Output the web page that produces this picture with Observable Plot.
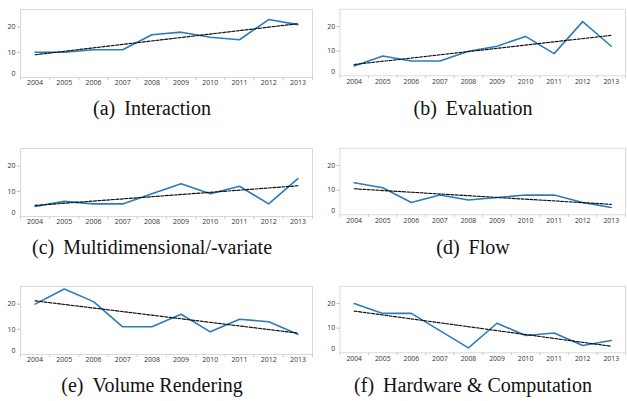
<!DOCTYPE html>
<html><head><meta charset="utf-8">
<script src="https://cdn.jsdelivr.net/npm/d3@7"></script>
<script src="https://cdn.jsdelivr.net/npm/@observablehq/plot@0.6"></script>
<style>
html,body{margin:0;padding:0;background:#fff;}
#root{position:relative;width:627px;height:401px;overflow:hidden;background:#fff;}
.panel{position:absolute;}
.cap{position:absolute;font-family:'Liberation Serif','Times New Roman',serif;font-size:20px;line-height:20px;color:#111;white-space:nowrap;transform:translateX(-50%);}
.cap .lbl{margin-right:9px;}
</style></head><body><div id="root"></div>
<script>
const years = [2004, 2005, 2006, 2007, 2008, 2009, 2010, 2011, 2012, 2013];
const interaction      = [10, 10, 11, 11, 17, 18, 16, 15, 23, 21];
const evaluation       = [4, 8, 6, 6, 10, 12, 16, 9, 22, 12];
const multidimensional = [4, 6, 5, 5, 9, 13, 9, 12, 5, 15];
const flow             = [13, 11, 5, 8, 6, 7, 8, 8, 5, 3];
const volumeRendering  = [20, 26, 21, 11, 11, 16, 9, 14, 13, 8];
const hardware         = [20, 16, 16, 9, 2, 12, 7, 8, 3, 5];
const captionLabels = ["(a)", "(b)", "(c)", "(d)", "(e)", "(f)"];
const captionTitles = ["Interaction", "Evaluation", "Multidimensional/-variate", "Flow", "Volume Rendering", "Hardware & Computation"];
const yTicks = [10, 20];
const yZeroTick = [0];

const seriesList = [interaction, evaluation, multidimensional, flow, volumeRendering, hardware];
// layout: [svg left, svg top, marginLeft, caption center x, caption top]
const layout = [
  [0, 0, 20, 152, 97.5],
  [315, 0, 25, 473, 97.5],
  [0, 138.5, 20, 152, 236.5],
  [315, 138.5, 25, 473, 236.5],
  [0, 277, 20, 152, 374.5],
  [315, 277, 25, 473, 374.5]
];
const bandEdges = d3.range(years.length + 1).map(i => years[0] - 0.5 + i);
const root = document.getElementById("root");
const font = "'Open Sans', 'DejaVu Sans', sans-serif";

seriesList.forEach((vals, i) => {
  const [left, top, ml, cx, ctop] = layout[i];
  const data = years.map((y, j) => ({year: y, value: vals[j]}));
  const chart = Plot.plot({
    width: ml + 292 + 2,
    height: 89,
    marginLeft: ml,
    marginRight: 2,
    marginTop: 9,
    marginBottom: 12,
    style: {fontFamily: font, fontSize: "7px", color: "#333", background: "transparent", overflow: "visible"},
    x: {type: "linear", domain: [years[0] - 0.5, years[years.length - 1] + 0.5]},
    y: {domain: [0, 27]},
    marks: [
      Plot.frame({stroke: "#d9d9d9", strokeWidth: 1}),
      Plot.axisY(yTicks, {tickSize: 3, tickPadding: 2, stroke: "#bbb", fill: "#333", label: null}),
      Plot.axisY(yZeroTick, {tickSize: 0, tickPadding: 5, dy: -4, fill: "#333", label: null}),
      Plot.axisX(years, {tickSize: 0, tickPadding: 3, tickFormat: d => String(d), fill: "#333", label: null}),
      Plot.axisX(bandEdges, {tickSize: 3, tickFormat: () => "", stroke: "#ccc", label: null}),
      Plot.line(data, {x: "year", y: "value", stroke: "#2b7bbd", strokeWidth: 1.6}),
      Plot.linearRegressionY(data, {x: "year", y: "value", ci: 0, stroke: "#111", strokeWidth: 1.2, strokeDasharray: "3,1.5"})
    ]
  });
  const wrap = document.createElement("div");
  wrap.className = "panel";
  wrap.style.left = left + "px";
  wrap.style.top = top + "px";
  wrap.appendChild(chart);
  root.appendChild(wrap);

  const cap = document.createElement("div");
  cap.className = "cap";
  cap.style.left = cx + "px";
  cap.style.top = ctop + "px";
  const l = document.createElement("span");
  l.className = "lbl";
  l.textContent = captionLabels[i];
  const t = document.createElement("span");
  t.textContent = captionTitles[i];
  cap.appendChild(l);
  cap.appendChild(t);
  root.appendChild(cap);
});
</script>
</body></html>
